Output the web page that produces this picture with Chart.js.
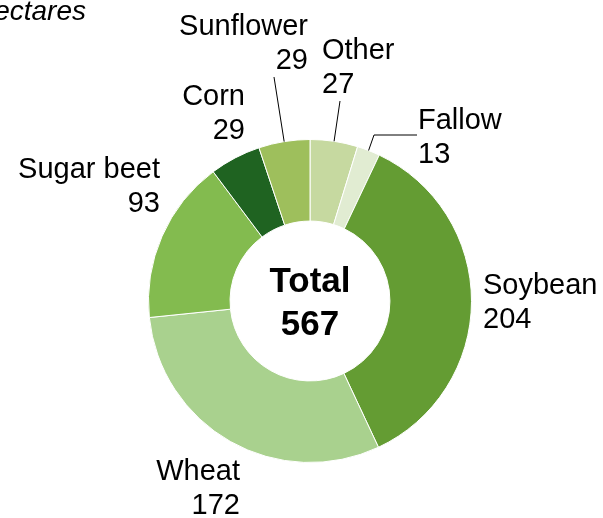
<!DOCTYPE html>
<html>
<head>
<meta charset="utf-8">
<script src="https://cdn.jsdelivr.net/npm/chart.js@4"></script>
<style>
  html, body { margin: 0; padding: 0; background: #fff; }
  #wrap { width: 603px; height: 518px; }
</style>
</head>
<body>
<div id="wrap"><canvas id="crops" width="603" height="518"></canvas></div>
<script>
// crop areas, clockwise from 12 o'clock
const crops = ['Other', 'Fallow', 'Soybean', 'Wheat', 'Sugar beet', 'Corn', 'Sunflower'];
const areas = [27, 13, 204, 172, 93, 29, 29];
const colors = ['#c6d9a0', '#e1ecd2', '#649c33', '#a9d18e', '#83bb4f', '#1f6321', '#9ebf5c'];
const unitLabel = 'Thousand hectares';

// where each label sits: x, first baseline y, alignment, and optional leader end
const labelSpots = [
  { x: 322, y: 59, align: 'left', leader: [340, 101] },
  { x: 418, y: 129, align: 'left', leader: [374, 135], elbow: [417, 135] },
  { x: 483, y: 294, align: 'left' },
  { x: 240, y: 480, align: 'right' },
  { x: 160, y: 178, align: 'right' },
  { x: 245, y: 105, align: 'right' },
  { x: 308, y: 35, align: 'right', leader: [274, 77] }
];

const total = areas.reduce((a, b) => a + b, 0);
const FONT = '"Liberation Sans", Arial, sans-serif';

const labelPlugin = {
  id: 'sliceLabels',
  afterDraw(chart) {
    const ctx = chart.ctx;
    const arcs = chart.getDatasetMeta(0).data;
    ctx.save();
    ctx.fillStyle = '#000';
    ctx.strokeStyle = '#000';
    ctx.lineWidth = 1;
    ctx.textBaseline = 'alphabetic';

    arcs.forEach((arc, i) => {
      const spot = labelSpots[i];
      const p = arc.getProps(['x', 'y', 'startAngle', 'endAngle', 'outerRadius'], true);
      if (spot.leader) {
        const mid = (p.startAngle + p.endAngle) / 2;
        const ex = p.x + Math.cos(mid) * p.outerRadius;
        const ey = p.y + Math.sin(mid) * p.outerRadius;
        ctx.beginPath();
        if (spot.elbow) ctx.moveTo(spot.elbow[0], spot.elbow[1]);
        else ctx.moveTo(spot.leader[0], spot.leader[1]);
        if (spot.elbow) ctx.lineTo(spot.leader[0], spot.leader[1]);
        ctx.lineTo(ex, ey);
        ctx.stroke();
      }
      ctx.font = '29px ' + FONT;
      ctx.textAlign = spot.align;
      ctx.fillText(crops[i], spot.x, spot.y);
      ctx.fillText(String(areas[i]), spot.x, spot.y + 34);
    });

    // total in the hole
    const c = arcs[0];
    ctx.font = 'bold 35px ' + FONT;
    ctx.textAlign = 'center';
    ctx.fillText('Total', c.x, 292);
    ctx.fillText(String(total), c.x, 335);

    // unit note, running off the left edge
    ctx.font = 'italic 28px ' + FONT;
    ctx.textAlign = 'right';
    ctx.fillText(unitLabel, 86, 20);
    ctx.restore();
  }
};

new Chart(document.getElementById('crops'), {
  type: 'doughnut',
  data: {
    labels: crops,
    datasets: [{
      data: areas,
      backgroundColor: colors,
      borderColor: '#ffffff',
      borderWidth: 1
    }]
  },
  options: {
    responsive: false,
    animation: false,
    cutout: '49.5%',
    layout: { padding: { top: 139, bottom: 55, left: 148, right: 131 } },
    plugins: {
      legend: { display: false },
      tooltip: { enabled: false }
    }
  },
  plugins: [labelPlugin]
});
</script>
</body>
</html>
